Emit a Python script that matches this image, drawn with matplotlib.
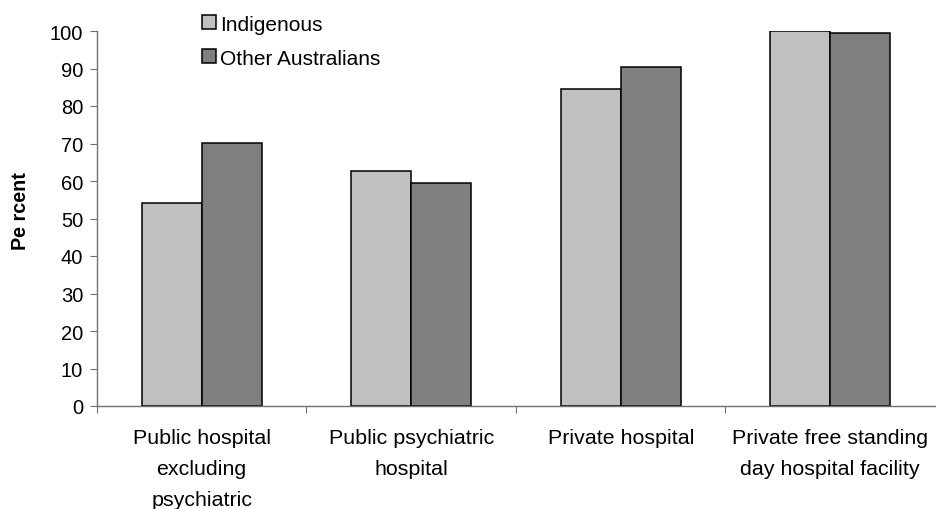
import matplotlib
matplotlib.use("Agg")
import matplotlib.pyplot as plt
import numpy as np

categories = [
    "Public hospital\nexcluding\npsychiatric",
    "Public psychiatric\nhospital",
    "Private hospital",
    "Private free standing\nday hospital facility",
]
indigenous = [54.2, 62.7, 84.6, 100.0]
other_australians = [70.1, 59.5, 90.5, 99.5]
series_names = ["Indigenous", "Other Australians"]

plt.rcParams["font.family"] = ["Liberation Sans", "DejaVu Sans"]

fig = plt.figure(figsize=(9.37, 5.10), dpi=100)
ax = fig.add_axes([97 / 937, 1 - 407 / 510, 838 / 937, 375 / 510])

x = np.arange(len(categories))
width = 0.286
b1 = ax.bar(x - width / 2, indigenous, width, color="#C0C0C0",
            edgecolor="black", linewidth=1.1, label=series_names[0])
b2 = ax.bar(x + width / 2, other_australians, width, color="#808080",
            edgecolor="black", linewidth=1.1, label=series_names[1])

ax.set_xlim(-0.5, len(categories) - 0.5)
ax.set_ylim(0, 100)
ax.set_yticks(np.arange(0, 101, 10))
ax.tick_params(axis="y", labelsize=14.5, length=5, color="#707070", pad=5)

# boundaries between groups get the tick marks, labels sit at group centres
ax.set_xticks(np.arange(-0.5, len(categories) - 0.5, 1))
ax.set_xticklabels([])
ax.tick_params(axis="x", which="major", length=5, color="#707070", direction="out")
ax.set_xticks(x, minor=True)
ax.set_xticklabels(categories, minor=True, fontsize=15.4, linespacing=1.8)
ax.tick_params(axis="x", which="minor", length=0, pad=16)

for side in ["top", "right"]:
    ax.spines[side].set_visible(False)
for side in ["left", "bottom"]:
    ax.spines[side].set_color("#707070")
    ax.spines[side].set_linewidth(1.0)

ax.set_ylabel("Pe rcent", fontsize=14.2, fontweight="bold")
ax.yaxis.set_label_coords(-0.08, 0.523)

leg = fig.legend(handles=[b1, b2], loc="upper left",
                 bbox_to_anchor=(185 / 937, 1 + 1 / 510), frameon=False,
                 fontsize=15, labelspacing=0.72, handlelength=0.67,
                 handleheight=0.67, handletextpad=0.2, borderpad=0.3)

fig.savefig("out.png", dpi=100)
